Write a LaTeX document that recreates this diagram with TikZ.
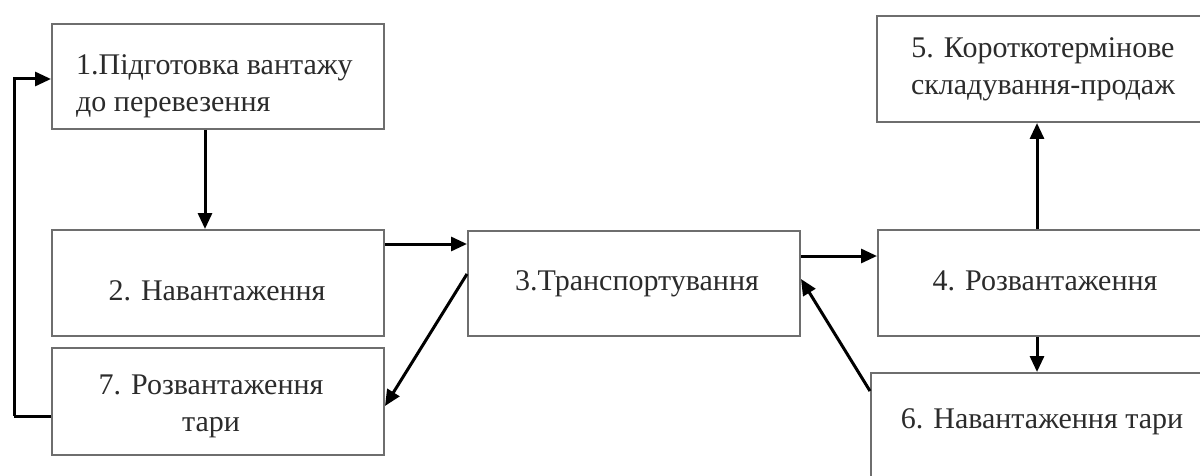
\documentclass[tikz,border=0pt]{standalone}
\usepackage{fontspec}
\setmainfont{Liberation Serif}
\usetikzlibrary{arrows.meta}
\definecolor{edge}{HTML}{6E6E6E}
\definecolor{ink}{HTML}{2B2B2B}
\tikzset{
  box/.style={draw=edge, line width=2pt, minimum width=#1, inner sep=0pt},
  lbl/.style={text=ink, font=\fontsize{30}{37}\selectfont, inner sep=0pt},
  arr/.style={line width=3pt, draw=black,
    -{Triangle[length=16pt,width=14pt]}},
  link/.style={line width=3pt, draw=black}
}
\begin{document}
\begin{tikzpicture}[x=1pt,y=-1pt]
  \useasboundingbox (0,0) rectangle (1200,476);
  \clip (0,0) rectangle (1200,476);

  % boxes (centre, width, height)
  \node[box=332pt, minimum height=105pt] (b1) at (218,76.5) {};
  \node[box=332pt, minimum height=106pt] (b2) at (218,283) {};
  \node[box=332pt, minimum height=107pt] (b7) at (218,401.5) {};
  \node[box=332pt, minimum height=105pt] (b3) at (634,283.5) {};
  \node[box=340pt, minimum height=106pt] (b4) at (1048,283) {};
  \node[box=341pt, minimum height=106pt] (b5) at (1047.5,69) {};
  \node[box=350pt, minimum height=120pt] (b6) at (1046,433) {};

  % texts
  \node[lbl, anchor=west, align=left] (t1) at (76,86)
    {1.Підготовка вантажу\\до перевезення};
  \node[lbl] (t2) at (217,291) {2. Навантаження};
  \node[lbl, align=center] (t7) at (211,406) {7. Розвантаження\\тари};
  \node[lbl] (t3) at (637,284) {3.Транспортування};
  \node[lbl] (t4) at (1045,281) {4. Розвантаження};
  \node[lbl, align=center] (t5) at (1043,69)
    {5. Короткотермінове\\складування-продаж};
  \node[lbl] (t6) at (1042,422) {6. Навантаження тари};

  % connectors
  \coordinate (fb) at (14,416);
  \draw[link] ([yshift=-14.5pt]b7.west) -- (fb);
  \draw[arr] (fb) |- ([yshift=-2.5pt]b1.west);
  \draw[arr] ([xshift=-13pt]b1.south) -- ([xshift=-13pt]b1.south |- b2.north);
  \draw[arr] ([yshift=-15pt]b2.north east) -- ([yshift=-14pt]b3.north west);
  \draw[arr] ([yshift=-44pt]b3.north west) -- ([yshift=-59pt]b7.north east);
  \draw[arr] ([yshift=-26pt]b3.north east) -- ([yshift=-27pt]b4.north west);
  \draw[arr] ([yshift=-19pt]b6.north west) -- ([yshift=-49pt]b3.north east);
  \draw[arr] ([xshift=160pt]b4.north west) -- ([xshift=160pt]b4.north west |- b5.south);
  \draw[arr] ([xshift=160pt]b4.south west) -- ([xshift=160pt]b4.south west |- b6.north);
\end{tikzpicture}
\end{document}
